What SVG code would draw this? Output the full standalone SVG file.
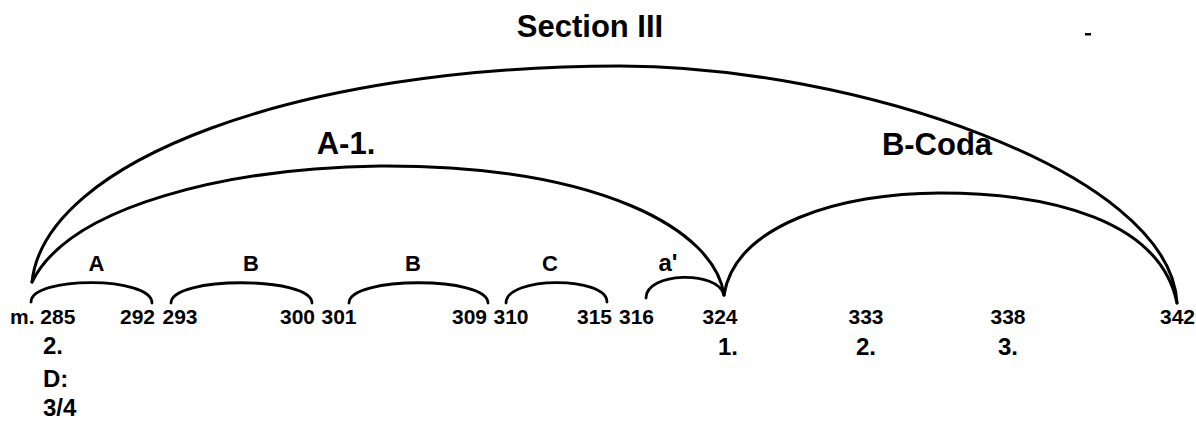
<svg xmlns="http://www.w3.org/2000/svg" width="1196" height="421" viewBox="0 0 1196 421">
  <style>
    .arc { fill: none; stroke: #000; stroke-width: 3; stroke-linecap: round; }
    .brk { fill: none; stroke: #000; stroke-width: 2.8; stroke-linecap: round; }
    text { font-family: "Liberation Sans", Arial, sans-serif; font-weight: bold; fill: #000; }
    .title { font-size: 31px; text-anchor: middle; }
    .part { font-size: 31px; text-anchor: middle; }
    .sub { font-size: 22px; text-anchor: middle; }
    .bar { font-size: 21px; text-anchor: middle; }
    .num { font-size: 24px; }
  </style>
  <rect width="1196" height="421" fill="#fff"/>

  <!-- headings -->
  <g id="section-title"><text class="title" x="590" y="37">Section III</text></g>
  <g id="part-a1"><text class="part" x="346" y="154">A-1.</text></g>
  <g id="part-bcoda"><text class="part" x="937" y="155">B-Coda</text></g>

  <!-- large spanning arcs -->
  <g id="arcs">
    <path class="arc" d="M32,282 C45,160 300,66 620,66 C850,66 1170,170 1177,303"/>
    <path class="arc" d="M32,282 C70,205 230,168 380,166 C600,165 715,230 724,295"/>
    <path class="arc" d="M724,295 C735,225 840,193 940,193 C1050,193 1160,220 1177,303"/>
  </g>

  <!-- phrase brackets -->
  <g id="brackets">
    <path class="brk" d="M31,302 C31,276 152,276 152,303"/>
    <path class="brk" d="M171,303 C171,276 312,276 312,303"/>
    <path class="brk" d="M349,303 C349,276 488,276 488,303"/>
    <path class="brk" d="M506,303 C506,276 607,276 607,302"/>
    <path class="brk" d="M646,298 C646,272 718,270 724,295"/>
  </g>

  <!-- phrase labels -->
  <g id="phrase-a"><text class="sub" x="96.5" y="271">A</text></g>
  <g id="phrase-b1"><text class="sub" x="251" y="271">B</text></g>
  <g id="phrase-b2"><text class="sub" x="413" y="271">B</text></g>
  <g id="phrase-c"><text class="sub" x="550" y="271">C</text></g>
  <g id="phrase-a-prime"><text class="sub" x="668" y="271" style="font-size:24px">a'</text></g>

  <!-- measure numbers -->
  <g id="measures">
    <text class="bar" x="10" y="324" style="text-anchor:start">m. 285</text>
    <text class="bar" x="137.5" y="324">292</text>
    <text class="bar" x="180" y="324">293</text>
    <text class="bar" x="297.5" y="324">300</text>
    <text class="bar" x="339" y="324">301</text>
    <text class="bar" x="469.5" y="324">309</text>
    <text class="bar" x="511" y="324">310</text>
    <text class="bar" x="594.5" y="324">315</text>
    <text class="bar" x="636.5" y="324">316</text>
    <text class="bar" x="720" y="324">324</text>
    <text class="bar" x="866" y="324">333</text>
    <text class="bar" x="1008" y="324">338</text>
    <text class="bar" x="1177.5" y="324">342</text>
  </g>

  <!-- ordinal markers and key/metre -->
  <g id="markers">
    <text class="num" x="43" y="354">2.</text>
    <text class="num" x="43" y="387">D:</text>
    <text class="num" x="43" y="416">3/4</text>
    <text class="num" x="718" y="355">1.</text>
    <text class="num" x="856" y="355">2.</text>
    <text class="num" x="998" y="355">3.</text>
  </g>

  <!-- small stray mark near top right -->
  <rect x="1085" y="33" width="6" height="2.5" fill="#000"/>
</svg>
